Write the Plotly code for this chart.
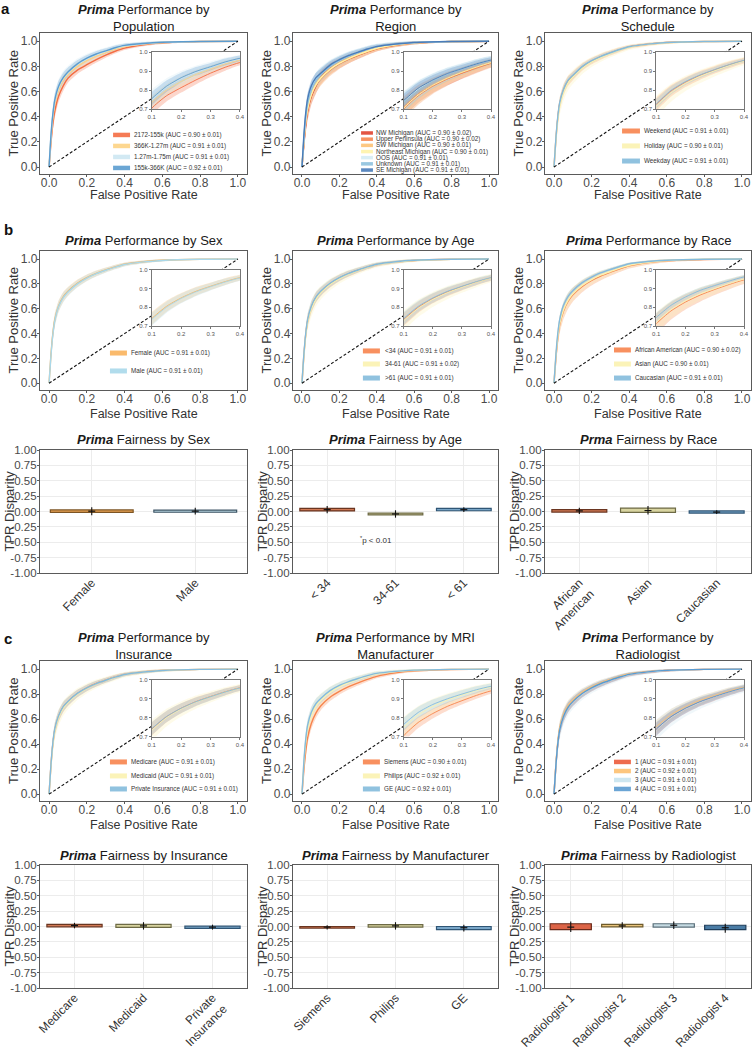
import plotly.graph_objects as go

W, H = 752, 1050
FONT = "Liberation Sans, Arial, Helvetica, sans-serif"

# ---------------- data ----------------
FPR = [0.0, 0.01, 0.02, 0.03, 0.05, 0.075, 0.1, 0.15, 0.2, 0.25, 0.3, 0.35, 0.4, 0.5, 0.6, 0.8, 1.0]
CHANCE = [0.0, 1.0]

CI_NARROW = [0, 0.030, 0.035, 0.035, 0.030, 0.028, 0.025, 0.021, 0.018, 0.016, 0.014, 0.012, 0.010, 0.008, 0.006, 0.003, 0]
CI_MID = [0, 0.045, 0.050, 0.050, 0.045, 0.040, 0.035, 0.030, 0.026, 0.023, 0.020, 0.018, 0.015, 0.012, 0.009, 0.004, 0]
CI_WIDE = [0, 0.060, 0.070, 0.070, 0.065, 0.060, 0.055, 0.047, 0.040, 0.035, 0.030, 0.026, 0.022, 0.017, 0.012, 0.006, 0]

POP_LABELS = ["2172-155k (AUC = 0.90 ± 0.01)", "366K-1.27m (AUC = 0.91 ± 0.01)",
              "1.27m-1.75m (AUC = 0.91 ± 0.01)", "155k-366K (AUC = 0.92 ± 0.01)"]
POP_TPR = [
    [0, 0.19, 0.34, 0.44, 0.56, 0.645, 0.705, 0.77, 0.813, 0.853, 0.889, 0.92, 0.945, 0.972, 0.987, 0.997, 1.0],
    [0, 0.22, 0.39, 0.50, 0.61, 0.69, 0.735, 0.80, 0.845, 0.882, 0.91, 0.937, 0.958, 0.978, 0.99, 0.998, 1.0],
    [0, 0.24, 0.41, 0.52, 0.63, 0.705, 0.748, 0.815, 0.86, 0.893, 0.92, 0.945, 0.963, 0.98, 0.991, 0.998, 1.0],
    [0, 0.25, 0.42, 0.53, 0.64, 0.71, 0.755, 0.82, 0.865, 0.898, 0.923, 0.948, 0.967, 0.982, 0.991, 0.998, 1.0],
]
POP_CI = [CI_MID, CI_MID, CI_WIDE, CI_MID]

REG_LABELS = ["NW Michigan (AUC = 0.90 ± 0.02)", "Upper Peninsula (AUC = 0.90 ± 0.02)",
              "SW Michigan (AUC = 0.90 ± 0.01)", "Northeast Michigan (AUC = 0.90 ± 0.01)",
              "OOS (AUC = 0.91 ± 0.01)", "Unknown (AUC = 0.91 ± 0.01)", "SE Michigan (AUC = 0.91 ± 0.01)"]
REG_TPR = [
    [0, 0.18, 0.33, 0.44, 0.56, 0.645, 0.71, 0.78, 0.825, 0.86, 0.89, 0.918, 0.942, 0.97, 0.986, 0.997, 1.0],
    [0, 0.19, 0.35, 0.45, 0.57, 0.65, 0.70, 0.77, 0.82, 0.858, 0.888, 0.915, 0.94, 0.968, 0.985, 0.997, 1.0],
    [0, 0.20, 0.36, 0.47, 0.58, 0.66, 0.71, 0.78, 0.828, 0.865, 0.895, 0.922, 0.945, 0.972, 0.987, 0.997, 1.0],
    [0, 0.20, 0.36, 0.46, 0.575, 0.655, 0.705, 0.775, 0.825, 0.862, 0.893, 0.92, 0.944, 0.971, 0.986, 0.997, 1.0],
    [0, 0.23, 0.40, 0.51, 0.62, 0.695, 0.74, 0.805, 0.85, 0.885, 0.912, 0.938, 0.958, 0.978, 0.99, 0.998, 1.0],
    [0, 0.22, 0.39, 0.50, 0.61, 0.69, 0.735, 0.80, 0.847, 0.882, 0.91, 0.936, 0.957, 0.977, 0.989, 0.998, 1.0],
    [0, 0.25, 0.43, 0.54, 0.645, 0.71, 0.745, 0.81, 0.853, 0.887, 0.913, 0.938, 0.958, 0.978, 0.99, 0.998, 1.0],
]
REG_CI = [CI_WIDE, CI_WIDE, CI_MID, CI_WIDE, CI_WIDE, CI_WIDE, CI_MID]

SCH_LABELS = ["Weekend (AUC = 0.91 ± 0.01)", "Holiday (AUC = 0.90 ± 0.01)", "Weekday (AUC = 0.91 ± 0.01)"]
SCH_TPR = [
    [0, 0.22, 0.39, 0.50, 0.61, 0.685, 0.725, 0.795, 0.842, 0.878, 0.907, 0.933, 0.955, 0.976, 0.989, 0.998, 1.0],
    [0, 0.21, 0.37, 0.48, 0.59, 0.67, 0.715, 0.785, 0.835, 0.872, 0.902, 0.929, 0.952, 0.975, 0.988, 0.998, 1.0],
    [0, 0.23, 0.40, 0.51, 0.615, 0.69, 0.728, 0.798, 0.845, 0.88, 0.908, 0.934, 0.956, 0.977, 0.989, 0.998, 1.0],
]
SCH_CI = [CI_MID, CI_WIDE, CI_NARROW]

SEX_LABELS = ["Female (AUC = 0.91 ± 0.01)", "Male (AUC = 0.91 ± 0.01)"]
SEX_TPR = [
    [0, 0.23, 0.40, 0.51, 0.62, 0.695, 0.74, 0.805, 0.85, 0.885, 0.912, 0.937, 0.958, 0.978, 0.99, 0.998, 1.0],
    [0, 0.22, 0.39, 0.50, 0.615, 0.69, 0.735, 0.80, 0.847, 0.882, 0.91, 0.935, 0.956, 0.977, 0.989, 0.998, 1.0],
]
SEX_CI = [CI_MID, CI_MID]

AGE_LABELS = ["<34 (AUC = 0.91 ± 0.01)", "34-61 (AUC = 0.91 ± 0.02)", ">61 (AUC = 0.91 ± 0.01)"]
AGE_TPR = [
    [0, 0.22, 0.39, 0.50, 0.61, 0.69, 0.735, 0.80, 0.847, 0.882, 0.91, 0.935, 0.956, 0.977, 0.989, 0.998, 1.0],
    [0, 0.21, 0.38, 0.49, 0.60, 0.68, 0.728, 0.795, 0.842, 0.878, 0.907, 0.933, 0.955, 0.976, 0.989, 0.998, 1.0],
    [0, 0.23, 0.40, 0.51, 0.62, 0.695, 0.74, 0.805, 0.85, 0.885, 0.912, 0.937, 0.958, 0.978, 0.99, 0.998, 1.0],
]
AGE_CI = [CI_MID, CI_WIDE, CI_MID]

RACE_LABELS = ["African American (AUC = 0.90 ± 0.02)", "Asian (AUC = 0.90 ± 0.01)", "Caucasian (AUC = 0.91 ± 0.01)"]
RACE_TPR = [
    [0, 0.20, 0.36, 0.47, 0.58, 0.66, 0.712, 0.78, 0.828, 0.865, 0.895, 0.922, 0.946, 0.972, 0.987, 0.997, 1.0],
    [0, 0.21, 0.37, 0.48, 0.59, 0.67, 0.72, 0.788, 0.835, 0.872, 0.90, 0.927, 0.95, 0.974, 0.988, 0.998, 1.0],
    [0, 0.23, 0.40, 0.51, 0.625, 0.70, 0.745, 0.81, 0.855, 0.89, 0.916, 0.94, 0.962, 0.98, 0.99, 0.998, 1.0],
]
RACE_CI = [CI_WIDE, CI_WIDE, CI_NARROW]

INS_LABELS = ["Medicare (AUC = 0.91 ± 0.01)", "Medicaid (AUC = 0.91 ± 0.01)", "Private Insurance (AUC = 0.91 ± 0.01)"]
INS_TPR = [
    [0, 0.23, 0.40, 0.51, 0.62, 0.695, 0.74, 0.805, 0.85, 0.885, 0.912, 0.937, 0.958, 0.978, 0.99, 0.998, 1.0],
    [0, 0.22, 0.39, 0.50, 0.61, 0.688, 0.733, 0.80, 0.846, 0.882, 0.91, 0.935, 0.956, 0.977, 0.989, 0.998, 1.0],
    [0, 0.235, 0.41, 0.52, 0.625, 0.70, 0.742, 0.806, 0.85, 0.884, 0.911, 0.936, 0.957, 0.977, 0.989, 0.998, 1.0],
]
INS_CI = [CI_MID, CI_WIDE, CI_MID]

MAN_LABELS = ["Siemens (AUC = 0.90 ± 0.01)", "Philips (AUC = 0.92 ± 0.01)", "GE (AUC = 0.92 ± 0.01)"]
MAN_TPR = [
    [0, 0.19, 0.34, 0.45, 0.565, 0.65, 0.705, 0.775, 0.822, 0.86, 0.89, 0.918, 0.942, 0.97, 0.986, 0.997, 1.0],
    [0, 0.24, 0.41, 0.52, 0.63, 0.705, 0.75, 0.815, 0.86, 0.893, 0.92, 0.944, 0.963, 0.98, 0.991, 0.998, 1.0],
    [0, 0.26, 0.44, 0.55, 0.655, 0.725, 0.765, 0.828, 0.87, 0.90, 0.925, 0.948, 0.966, 0.982, 0.992, 0.998, 1.0],
]
MAN_CI = [CI_MID, CI_WIDE, CI_MID]

RAD_LABELS = ["1 (AUC = 0.91 ± 0.01)", "2 (AUC = 0.92 ± 0.01)", "3 (AUC = 0.91 ± 0.01)", "4 (AUC = 0.91 ± 0.01)"]
RAD_TPR = [
    [0, 0.23, 0.40, 0.51, 0.62, 0.695, 0.738, 0.803, 0.848, 0.883, 0.91, 0.935, 0.956, 0.977, 0.989, 0.998, 1.0],
    [0, 0.24, 0.42, 0.53, 0.635, 0.71, 0.752, 0.815, 0.858, 0.892, 0.918, 0.942, 0.961, 0.979, 0.99, 0.998, 1.0],
    [0, 0.225, 0.395, 0.505, 0.615, 0.69, 0.735, 0.80, 0.846, 0.881, 0.909, 0.934, 0.955, 0.976, 0.989, 0.998, 1.0],
    [0, 0.23, 0.40, 0.51, 0.62, 0.695, 0.74, 0.805, 0.85, 0.885, 0.912, 0.937, 0.958, 0.978, 0.99, 0.998, 1.0],
]
RAD_CI = [CI_MID, CI_MID, CI_WIDE, CI_MID]

# fairness (TPR disparity) summary: median, box (q1, q3), whiskers (lo, hi)
SEX_CATS = ["Female", "Male"]
SEX_MED = [0.005, 0.005]
SEX_Q1 = [-0.015, -0.012]
SEX_Q3 = [0.025, 0.022]
SEX_LO = [-0.06, -0.05]
SEX_HI = [0.07, 0.06]

AGE_CATS = ["< 34", "34-61", "< 61"]
AGE_MED = [0.03, -0.04, 0.03]
AGE_Q1 = [0.01, -0.055, 0.012]
AGE_Q3 = [0.05, -0.025, 0.05]
AGE_LO = [-0.03, -0.10, -0.01]
AGE_HI = [0.09, 0.02, 0.07]

RACE_CATS = ["African<br>American", "Asian", "Caucasian"]
RACE_MED = [0.01, 0.015, -0.01]
RACE_Q1 = [-0.01, -0.015, -0.025]
RACE_Q3 = [0.03, 0.055, 0.01]
RACE_LO = [-0.04, -0.05, -0.04]
RACE_HI = [0.06, 0.09, 0.02]

INS_CATS = ["Medicare", "Medicaid", "Private<br>Insurance"]
INS_MED = [0.015, 0.01, -0.01]
INS_Q1 = [-0.005, -0.015, -0.03]
INS_Q3 = [0.035, 0.035, 0.005]
INS_LO = [-0.03, -0.05, -0.05]
INS_HI = [0.06, 0.07, 0.03]

MAN_CATS = ["Siemens", "Philips", "GE"]
MAN_MED = [-0.01, 0.01, -0.02]
MAN_Q1 = [-0.025, -0.01, -0.05]
MAN_Q3 = [0.0, 0.03, 0.0]
MAN_LO = [-0.05, -0.05, -0.08]
MAN_HI = [0.02, 0.07, 0.03]

RAD_CATS = ["Radiologist 1", "Radiologist 2", "Radiologist 3", "Radiologist 4"]
RAD_MED = [-0.01, 0.01, 0.02, -0.02]
RAD_Q1 = [-0.05, -0.005, -0.01, -0.05]
RAD_Q3 = [0.045, 0.035, 0.045, 0.02]
RAD_LO = [-0.09, -0.04, -0.04, -0.10]
RAD_HI = [0.08, 0.07, 0.08, 0.045]

FAIR_TICKS = [1.0, 0.75, 0.5, 0.25, 0.0, -0.25, -0.5, -0.75, -1.0]
FAIR_TICK_TEXT = ["1.00", "0.75", "0.50", "0.25", "0.00", "-0.25", "-0.50", "-0.75", "-1.00"]
ROC_TICKS = [0.0, 0.2, 0.4, 0.6, 0.8, 1.0]
INSET_X_TICKS = [0.1, 0.2, 0.3, 0.4]
INSET_Y_TICKS = [0.7, 0.8, 0.9, 1.0]

# ---------------- styles ----------------
C4 = ["#f46d43", "#fdd384", "#cde7f2", "#5b9ccf"]
C7 = ["#e0422f", "#f6864f", "#fdc274", "#fef3a9", "#d5ecf4", "#8fc2de", "#4a7cb9"]
C3 = ["#f7844e", "#fbf2b0", "#84bbdc"]
C2 = ["#f9b25c", "#a9d8ea"]
CR = ["#ec5b3b", "#fdc070", "#c8e3ee", "#5b9bd0"]

F2_FILL, F2_EDGE = ["#e9a253", "#b4d0dc"], ["#7d5524", "#3e5566"]
F3_FILL, F3_EDGE = ["#d27a55", "#d8d4a0", "#79a6c8"], ["#6a3520", "#6d6a45", "#2f5575"]
F4_FILL, F4_EDGE = ["#dc6447", "#e9c47c", "#c6dbe3", "#4a7ca5"], ["#6a2a1a", "#6e5a2a", "#5a6f7a", "#1f3d5a"]

COLS = [(40, 247), (293, 498), (545, 751)]
ROC_ROWS = [(33, 174), (251, 390), (661, 801)]
FAIR_ROWS = [(450, 573), (865, 988)]
ROC_TITLE_Y = [18, 241, 646]
ROC_XTITLE_Y = [195, 414, 825]
FAIR_TITLE_Y = [439, 855]

T = "<b><i>Prima</i></b> "
panels = [
    dict(title=T + "Performance by<br>Population", labels=POP_LABELS, tpr=POP_TPR, ci=POP_CI, colors=C4,
         leg=dict(p0=0.353, p1=0.435, tx=0.444, rows=[0.723, 0.801, 0.879, 0.957], ph=4.5)),
    dict(title=T + "Performance by<br>Region", labels=REG_LABELS, tpr=REG_TPR, ci=REG_CI, colors=C7,
         leg=dict(p0=0.332, p1=0.39, tx=0.397, rows=[0.709, 0.753, 0.797, 0.841, 0.884, 0.928, 0.972], ph=3.5)),
    dict(title=T + "Performance by<br>Schedule", labels=SCH_LABELS, tpr=SCH_TPR, ci=SCH_CI, colors=C3,
         leg=dict(p0=0.374, p1=0.461, tx=0.471, rows=[0.695, 0.801, 0.908], ph=5)),
    dict(title=T + "Performance by Sex", labels=SEX_LABELS, tpr=SEX_TPR, ci=SEX_CI, colors=C2,
         leg=dict(p0=0.338, p1=0.42, tx=0.43, rows=[0.734, 0.863], ph=5)),
    dict(title=T + "Performance by Age", labels=AGE_LABELS, tpr=AGE_TPR, ci=AGE_CI, colors=C3,
         leg=dict(p0=0.341, p1=0.424, tx=0.439, rows=[0.719, 0.813, 0.914], ph=5)),
    dict(title=T + "Performance by Race", labels=RACE_LABELS, tpr=RACE_TPR, ci=RACE_CI, colors=C3,
         leg=dict(p0=0.335, p1=0.417, tx=0.427, rows=[0.712, 0.813, 0.914], ph=5)),
    dict(title=T + "Performance by<br>Insurance", labels=INS_LABELS, tpr=INS_TPR, ci=INS_CI, colors=C3,
         leg=dict(p0=0.338, p1=0.42, tx=0.43, rows=[0.721, 0.821, 0.914], ph=5)),
    dict(title=T + "Performance by MRI<br>Manufacturer", labels=MAN_LABELS, tpr=MAN_TPR, ci=MAN_CI, colors=C3,
         leg=dict(p0=0.341, p1=0.424, tx=0.434, rows=[0.721, 0.821, 0.914], ph=5)),
    dict(title=T + "Performance by<br>Radiologist", labels=RAD_LABELS, tpr=RAD_TPR, ci=RAD_CI, colors=CR,
         leg=dict(p0=0.335, p1=0.417, tx=0.427, rows=[0.721, 0.786, 0.85, 0.914], ph=4.5)),
]

fair_panels = [
    dict(title=T + "Fairness by Sex", cats=SEX_CATS, med=SEX_MED, q1=SEX_Q1, q3=SEX_Q3, lo=SEX_LO, hi=SEX_HI, fill=F2_FILL, edge=F2_EDGE),
    dict(title=T + "Fairness by Age", cats=AGE_CATS, med=AGE_MED, q1=AGE_Q1, q3=AGE_Q3, lo=AGE_LO, hi=AGE_HI, fill=F3_FILL, edge=F3_EDGE),
    dict(title="<b><i>Prma</i></b> Fairness by Race", cats=RACE_CATS, med=RACE_MED, q1=RACE_Q1, q3=RACE_Q3, lo=RACE_LO, hi=RACE_HI, fill=F3_FILL, edge=F3_EDGE),
    dict(title=T + "Fairness by Insurance", cats=INS_CATS, med=INS_MED, q1=INS_Q1, q3=INS_Q3, lo=INS_LO, hi=INS_HI, fill=F3_FILL, edge=F3_EDGE),
    dict(title=T + "Fairness by Manufacturer", cats=MAN_CATS, med=MAN_MED, q1=MAN_Q1, q3=MAN_Q3, lo=MAN_LO, hi=MAN_HI, fill=F3_FILL, edge=F3_EDGE),
    dict(title=T + "Fairness by Radiologist", cats=RAD_CATS, med=RAD_MED, q1=RAD_Q1, q3=RAD_Q3, lo=RAD_LO, hi=RAD_HI, fill=F4_FILL, edge=F4_EDGE),
]

# ---------------- helpers ----------------
def px(x):
    return x / W

def py(y):
    return 1 - y / H

def rgba(hexc, a):
    h = hexc.lstrip("#")
    return "rgba(%d,%d,%d,%s)" % (int(h[0:2], 16), int(h[2:4], 16), int(h[4:6], 16), a)

def akey(letter, n):
    return ("%saxis" % letter) if n == 1 else ("%saxis%d" % (letter, n))

def aref(letter, n):
    return letter if n == 1 else "%s%d" % (letter, n)

fig = go.Figure()
layout = {}
annotations = []
shapes = []

FRAME = dict(showline=True, linecolor="#5a5a5a", linewidth=1.3, mirror=True, zeroline=False, automargin=False)
TICKF = dict(family=FONT, size=12, color="#4a4a4a")

def text(x, y, s, size=12, color="#222", **kw):
    d = dict(x=px(x), y=py(y), xref="paper", yref="paper", text=s, showarrow=False,
             font=dict(family=FONT, size=size, color=color), xanchor="center", yanchor="middle")
    d.update(kw)
    annotations.append(d)

# ---------------- ROC panels ----------------
for i, p in enumerate(panels):
    r, c = divmod(i, 3)
    x0, x1 = COLS[c]
    y0, y1 = ROC_ROWS[r]
    n, m = i + 1, 16 + i
    ix0, ix1 = x0 + 0.54 * (x1 - x0), x0 + 0.966 * (x1 - x0)
    iy0, iy1 = y0 + 0.135 * (y1 - y0), y0 + 0.54 * (y1 - y0)

    layout[akey("x", n)] = dict(domain=[px(x0), px(x1)], anchor=aref("y", n), range=[-0.048, 1.048],
                                tickvals=ROC_TICKS, tickformat=".1f", ticks="outside", ticklen=2,
                                ticklabelstandoff=-5,
                                tickcolor="#5a5a5a", tickfont=TICKF, showgrid=False, **FRAME)
    layout[akey("y", n)] = dict(domain=[py(y1), py(y0)], anchor=aref("x", n), range=[-0.055, 1.065],
                                tickvals=ROC_TICKS, tickformat=".1f", ticks="outside", ticklen=2,
                                ticklabelstandoff=-3,
                                tickcolor="#5a5a5a", tickfont=TICKF, showgrid=False, **FRAME)
    inset_f = dict(family=FONT, size=6, color="#555")
    layout[akey("x", m)] = dict(domain=[px(ix0), px(ix1)], anchor=aref("y", m), range=[0.1, 0.4],
                                tickvals=INSET_X_TICKS, tickformat=".1f", ticks="outside", ticklen=2,
                                tickcolor="#777", tickfont=inset_f, showgrid=False, showline=True,
                                linecolor="#777", linewidth=0.8, mirror=True, zeroline=False, automargin=False)
    layout[akey("y", m)] = dict(domain=[py(iy1), py(iy0)], anchor=aref("x", m), range=[0.7, 1.0],
                                tickvals=INSET_Y_TICKS, tickformat=".1f", ticks="outside", ticklen=2,
                                tickcolor="#777", tickfont=inset_f, showgrid=False, showline=True,
                                linecolor="#777", linewidth=0.8, mirror=True, zeroline=False, automargin=False)

    targets = [(aref("x", n), aref("y", n), 1.4), (aref("x", m), aref("y", m), 0.9)]
    # bands
    for tpr, ci, col in zip(p["tpr"], p["ci"], p["colors"]):
        up = [min(1.0, t + e) for t, e in zip(tpr, ci)]
        lo = [max(0.0, t - e) for t, e in zip(tpr, ci)]
        for xr, yr, lw in targets:
            fig.add_trace(go.Scatter(x=FPR, y=up, xaxis=xr, yaxis=yr, mode="lines",
                                     line=dict(width=0, shape="spline", smoothing=0.6, color=col),
                                     hoverinfo="skip", showlegend=False))
            fig.add_trace(go.Scatter(x=FPR, y=lo, xaxis=xr, yaxis=yr, mode="lines", fill="tonexty",
                                     fillcolor=rgba(col, 0.28),
                                     line=dict(width=0, shape="spline", smoothing=0.6, color=col),
                                     hoverinfo="skip", showlegend=False))
    # lines
    for tpr, col, lab in zip(p["tpr"], p["colors"], p["labels"]):
        for xr, yr, lw in targets:
            fig.add_trace(go.Scatter(x=FPR, y=tpr, xaxis=xr, yaxis=yr, mode="lines", name=lab,
                                     line=dict(width=lw, shape="spline", smoothing=0.6, color=col),
                                     showlegend=False))
    # chance line
    fig.add_trace(go.Scatter(x=CHANCE, y=CHANCE, xaxis=aref("x", n), yaxis=aref("y", n), mode="lines",
                             line=dict(color="#111", width=1.1, dash="3px,2px"), showlegend=False,
                             hoverinfo="skip"))

    # legend (patches + labels)
    lg = p["leg"]
    for k, (lab, col) in enumerate(zip(p["labels"], p["colors"])):
        yy = y0 + lg["rows"][k] * (y1 - y0)
        shapes.append(dict(type="rect", xref="paper", yref="paper", layer="above",
                           x0=px(x0 + lg["p0"] * (x1 - x0)), x1=px(x0 + lg["p1"] * (x1 - x0)),
                           y0=py(yy + lg["ph"] / 2), y1=py(yy - lg["ph"] / 2),
                           fillcolor=rgba(col, 0.9), line=dict(width=0)))
        text(x0 + lg["tx"] * (x1 - x0), yy, lab, size=6.3, color="#333", xanchor="left")

    # titles
    text((x0 + x1) / 2, ROC_TITLE_Y[r], p["title"], size=13, color="#1a1a1a")
    text((x0 + x1) / 2, ROC_XTITLE_Y[r], "False Positive Rate", size=12.5, color="#333")
    text(x0 - 27, (y0 + y1) / 2, "True Positive Rate", size=13, color="#333", textangle=-90)

# ---------------- fairness panels ----------------
for j, f in enumerate(fair_panels):
    r, c = divmod(j, 3)
    x0, x1 = COLS[c]
    y0, y1 = FAIR_ROWS[r]
    n = 10 + j
    ncat = len(f["cats"])
    layout[akey("x", n)] = dict(domain=[px(x0), px(x1)], anchor=aref("y", n), type="category",
                                categoryorder="array", categoryarray=f["cats"],
                                range=[-0.5, ncat - 0.5], showgrid=True, gridcolor="#ececec", gridwidth=1,
                                ticks="", tickangle=-45, ticklabelstandoff=-3,
                                tickfont=dict(family=FONT, size=12, color="#333"),
                                **FRAME)
    layout[akey("y", n)] = dict(domain=[py(y1), py(y0)], anchor=aref("x", n), range=[-1.0, 1.0],
                                tickvals=FAIR_TICKS, ticktext=FAIR_TICK_TEXT, showgrid=True,
                                gridcolor="#ececec", gridwidth=1, ticks="outside", ticklen=2,
                                ticklabelstandoff=-2,
                                tickcolor="#5a5a5a", tickfont=dict(family=FONT, size=11.5, color="#4a4a4a"),
                                **FRAME)
    fig.add_trace(go.Bar(x=f["cats"], y=[b - a for a, b in zip(f["q1"], f["q3"])], base=f["q1"],
                         width=0.8, xaxis=aref("x", n), yaxis=aref("y", n),
                         marker=dict(color=f["fill"], line=dict(color=f["edge"], width=1.2)),
                         showlegend=False))
    fig.add_trace(go.Scatter(x=f["cats"], y=f["med"], xaxis=aref("x", n), yaxis=aref("y", n),
                             mode="markers", marker=dict(symbol="line-ew", size=5, color="#111",
                                                         line=dict(color="#111", width=1.2)),
                             error_y=dict(type="data", symmetric=False,
                                          array=[h - md for h, md in zip(f["hi"], f["med"])],
                                          arrayminus=[md - l for md, l in zip(f["med"], f["lo"])],
                                          color="#111", thickness=1.1, width=0),
                             showlegend=False))
    text((x0 + x1) / 2, FAIR_TITLE_Y[r], f["title"], size=13, color="#1a1a1a")
    text(x0 - 31, (y0 + y1) / 2, "TPR Disparity", size=13, color="#333", textangle=-90)

# significance note under the 34-61 age group
annotations.append(dict(x=AGE_CATS[1], y=-0.47, xref="x11", yref="y11", text="<sup>*</sup>p < 0.01",
                        showarrow=False, xanchor="right", xshift=-2,
                        font=dict(family=FONT, size=8, color="#333")))

# panel letters
text(6, 8, "<b>a</b>", size=15, color="#111")
text(8, 229, "<b>b</b>", size=15, color="#111")
text(8, 638, "<b>c</b>", size=15, color="#111")

layout.update(dict(template="none", width=W, height=H, margin=dict(l=0, r=0, t=0, b=0, autoexpand=False),
                   paper_bgcolor="white", plot_bgcolor="white", showlegend=False,
                   font=dict(family=FONT, color="#333"),
                   annotations=annotations, shapes=shapes, hovermode=False, bargap=0.2))
fig.update_layout(**layout)
fig.write_html("out.html")
